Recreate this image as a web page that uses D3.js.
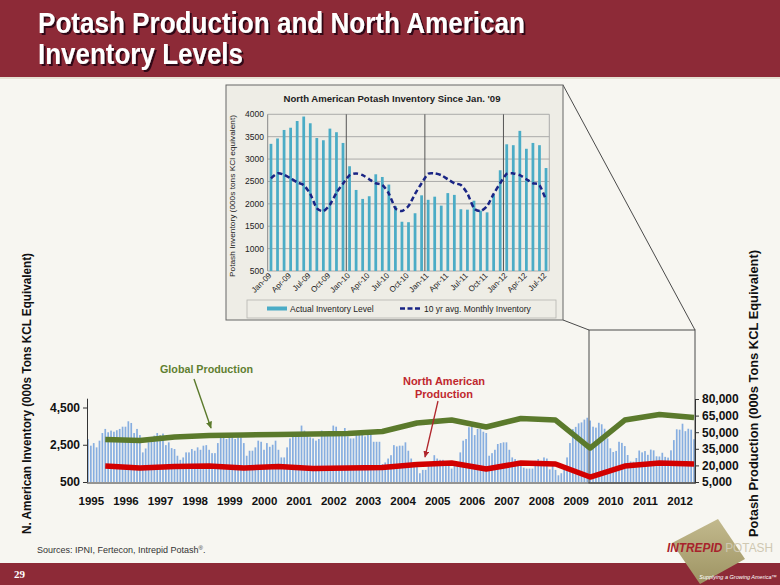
<!DOCTYPE html>
<html><head><meta charset="utf-8">
<script src="https://cdn.jsdelivr.net/npm/d3@7"></script>
<style>html,body{margin:0;padding:0;background:#f7f6f1;}svg{display:block;font-family:"Liberation Sans",Arial,sans-serif;}</style>
</head><body><svg id="c" width="780" height="585"></svg>
<script>
// ---------- DATA ----------
const years = d3.range(1995, 2013);
const yearLabels = years.map(String);
// Monthly N. American inventory (000s tons KCl), Jan 1995 - Dec 2008
const inventory1995to2008 = [
  2800,2450,2590,2360,2720,3130,3350,3170,3260,3200,3280,3350, // 1995
  3470,3470,3760,3670,3130,3350,3020,2090,2300,2630,2810,2990, // 1996
  3130,3020,3100,2480,2630,2320,2270,1910,1690,1820,2090,2090, // 1997
  2270,2180,2360,2230,2450,2480,2230,2050,2050,2590,2900,2900, // 1998
  2810,2900,2900,2810,2900,2900,2590,1910,2180,2180,2360,2720, // 1999
  2660,2230,2590,2390,2500,2720,2230,1820,1820,2360,2840,2950, // 2000
  2990,2990,3530,3260,2990,2900,2840,2720,2810,3260,2990,3080, // 2001
  3080,3530,3470,3080,3170,3400,2950,2840,2840,3020,3040,3040, // 2002
  2950,3080,3080,2660,2660,2660,1460,1550,1760,1940,2480,2410, // 2003
  2450,2450,2630,2180,1760,1580,1330,970,1150,1150,1550,1550,  // 2004
  1940,1760,1690,1690,1580,1360,1220,1360,1550,2090,2720,2810, // 2005
  3440,3490,3020,3350,3350,3200,3130,1910,2050,2230,2540,2590, // 2006
  2630,2630,2230,1820,1730,1640,1360,1270,1220,1220,1220,1640, // 2007
  1730,1640,1820,1760,1180,1360,1150,860,970,1180,1820,2590    // 2008
];
// Monthly inventory Jan 2009 - Jul 2012 (inset)
const inventory2009to2012 = [
  3340,3460,3650,3700,3850,3950,3800,3470,3420,3680,3600,3360, // 2009
  2840,2310,2110,2170,2660,2600,2430,1950,1600,1590,1790,2190, // 2010
  2090,2160,1960,2240,2200,1880,1870,2070,1850,1810,2200,2750, // 2011
  3330,3310,3630,3230,3360,3310,2800                          // 2012
];
// 10 yr avg monthly inventory, Jan 2009 - Jul 2012
const tenYearAvg = [
  2570,2680,2650,2570,2480,2420,2220,1900,1840,1980,2250,2450,
  2640,2680,2640,2550,2460,2420,2230,1900,1840,1950,2220,2460,
  2670,2680,2640,2550,2460,2420,2230,1900,1840,1950,2220,2460,
  2670,2680,2640,2550,2460,2420,2090
];
const insetMonthLabels = ["Jan-09","Apr-09","Jul-09","Oct-09","Jan-10","Apr-10","Jul-10","Oct-10",
  "Jan-11","Apr-11","Jul-11","Oct-11","Jan-12","Apr-12","Jul-12"];
// Annual production (000s tons KCl), 1995-2012
const globalProduction = [43400,42500,45700,47000,47500,47900,48400,48800,50600,58300,61000,54700,62400,61000,35700,61000,66000,63300];
const naProduction     = [19400,17700,19000,19400,17700,19000,17200,17700,18100,20800,22200,16800,22200,21300,9500,19400,22200,21300];
const leftTicks  = [500, 2500, 4500];
const rightTicks = [5000, 20000, 35000, 50000, 65000, 80000];
const insetTicks = [500,1000,1500,2000,2500,3000,3500,4000];

const inventoryMonthly = inventory1995to2008.concat(inventory2009to2012);

// ---------- DRAW ----------
const svg = d3.select('#c');
const defs = svg.append('defs');
function arrow(id, color){
  defs.append('marker').attr('id',id).attr('viewBox','0 0 10 10').attr('refX',9).attr('refY',5)
    .attr('markerWidth',5).attr('markerHeight',5).attr('orient','auto')
    .append('path').attr('d','M0,0.5L10,5L0,9.5Z').attr('fill',color);
}
arrow('arrG','#5b7a2c'); arrow('arrR','#b0262c');
const lg = defs.append('linearGradient').attr('id','logoG').attr('x1',0).attr('y1',0).attr('x2',0).attr('y2',1);
lg.append('stop').attr('offset','0%').attr('stop-color','#c2b98d');
lg.append('stop').attr('offset','100%').attr('stop-color','#9e9463');
const sh = defs.append('filter').attr('id','tshadow').attr('x','-5%').attr('y','-20%').attr('width','115%').attr('height','150%');
sh.append('feDropShadow').attr('dx',2).attr('dy',2).attr('stdDeviation',0.6).attr('flood-color','#1e0609').attr('flood-opacity',0.8);

svg.append('rect').attr('width',780).attr('height',585).attr('fill','#f7f6f1');
// title bar
svg.append('rect').attr('x',0).attr('y',0).attr('width',780).attr('height',77).attr('fill','#8d2a37');
svg.append('rect').attr('x',0).attr('y',77).attr('width',780).attr('height',2).attr('fill','#e6e1d3');
const titleLines = [["Potash Production and North American",33,487],["Inventory Levels",64,205]];
titleLines.forEach(([t,y,len])=>{
  svg.append('text').attr('x',38).attr('y',y).attr('font-size',30).attr('font-weight','bold')
    .attr('fill','#ffffff').attr('filter','url(#tshadow)').attr('textLength',len).attr('lengthAdjust','spacingAndGlyphs').text(t);
});
// bottom bar
svg.append('rect').attr('x',0).attr('y',563).attr('width',780).attr('height',22).attr('fill','#8d2a37');
svg.append('text').attr('x',14).attr('y',578).attr('font-size',11).attr('font-weight','bold')
  .attr('font-family','"Liberation Serif",serif').attr('fill','#fff').text('29');

// ---------- MAIN CHART ----------
const x = d3.scaleLinear().domain([-0.5, 210.5]).range([86.5, 695.5]);
const yL = d3.scaleLinear().domain([500, 5000]).range([482, 398.2]);
const yR = d3.scaleLinear().domain([5000, 80000]).range([482, 399]);

const main = svg.append('g');
main.selectAll('rect.inv').data(inventoryMonthly).enter().append('rect').attr('class','inv')
  .attr('x',(d,i)=>x(i)-0.85).attr('width',1.7)
  .attr('y',d=>yL(d)).attr('height',d=>yL(500)-yL(d)).attr('fill','#87aee0');

// zoom callout box & connectors
const boxL = 589, boxR = 695, boxT = 330, boxB = 483;
main.append('rect').attr('x',boxL).attr('y',boxT).attr('width',boxR-boxL).attr('height',boxB-boxT)
  .attr('fill','none').attr('stroke','#4a4a4a').attr('stroke-width',1);
main.append('line').attr('x1',563).attr('y1',85).attr('x2',boxR).attr('y2',boxT).attr('stroke','#4a4a4a').attr('stroke-width',1);
main.append('line').attr('x1',563).attr('y1',320).attr('x2',boxL).attr('y2',boxT).attr('stroke','#4a4a4a').attr('stroke-width',1);

// axes
const axL = main.append('g').attr('transform','translate(87,0)')
  .call(d3.axisLeft(yL).tickValues(leftTicks).tickFormat(d3.format(',')).tickSize(4).tickSizeOuter(0));
const axR = main.append('g').attr('transform','translate(695,0)')
  .call(d3.axisRight(yR).tickValues(rightTicks).tickFormat(d3.format(',')).tickSize(4).tickSizeOuter(0));
const axB = main.append('g').attr('transform','translate(0,482.5)')
  .call(d3.axisBottom(x).tickValues(years.map((y,i)=>12*i+1)).tickFormat((d,i)=>yearLabels[i]).tickSize(0).tickPadding(14).tickSizeOuter(0));
[axL,axR].forEach(a=>{a.selectAll('text').attr('font-size',12).attr('font-weight','bold').attr('fill','#111').attr('font-family','"Liberation Sans",Arial,sans-serif');
  a.select('.domain').attr('stroke','#333'); a.selectAll('.tick line').attr('stroke','#333');});
axB.selectAll('text').attr('font-size',11.5).attr('font-weight','bold').attr('fill','#111').attr('font-family','"Liberation Sans",Arial,sans-serif');
axB.select('.domain').attr('stroke','#333');

// production lines
const lineG = d3.line().x((d,i)=>x(12*i+6)).y(d=>yR(d));
main.append('path').attr('d',lineG(globalProduction)).attr('fill','none').attr('stroke','#5b7a2c').attr('stroke-width',5.5).attr('stroke-linejoin','round');
main.append('path').attr('d',lineG(naProduction)).attr('fill','none').attr('stroke','#d20000').attr('stroke-width',5.5).attr('stroke-linejoin','round');

// annotations
main.append('text').attr('x',160).attr('y',373).attr('font-size',11).attr('font-weight','bold').attr('fill','#5f7f30')
  .attr('textLength',93).attr('lengthAdjust','spacingAndGlyphs').text('Global Production');
main.append('line').attr('x1',194).attr('y1',379).attr('x2',211).attr('y2',428).attr('stroke','#5b7a2c').attr('stroke-width',1.4).attr('marker-end','url(#arrG)');
main.append('text').attr('x',444).attr('y',385).attr('text-anchor','middle').attr('font-size',11).attr('font-weight','bold').attr('fill','#c0282e').text('North American');
main.append('text').attr('x',444).attr('y',398).attr('text-anchor','middle').attr('font-size',11).attr('font-weight','bold').attr('fill','#c0282e').text('Production');
main.append('line').attr('x1',438).attr('y1',401).attr('x2',425).attr('y2',457).attr('stroke','#b0262c').attr('stroke-width',1.3).attr('marker-end','url(#arrR)');

// axis titles
svg.append('text').attr('transform','translate(31,393.5) rotate(-90)').attr('text-anchor','middle')
  .attr('font-size',12).attr('font-weight','bold').attr('fill','#111').attr('textLength',281).attr('lengthAdjust','spacingAndGlyphs')
  .text('N. American Inventory (000s Tons KCL Equivalent)');
svg.append('text').attr('transform','translate(758,393.5) rotate(-90)').attr('text-anchor','middle')
  .attr('font-size',12).attr('font-weight','bold').attr('fill','#111').attr('textLength',287).attr('lengthAdjust','spacingAndGlyphs')
  .text('Potash Production (000s Tons KCL Equivalent)');

// sources
const src = svg.append('text').attr('x',37).attr('y',553).attr('font-size',9).attr('fill','#333');
src.append('tspan').text('Sources: IPNI, Fertecon, Intrepid Potash');
src.append('tspan').attr('font-size',6).attr('dy',-3).text('®');
src.append('tspan').attr('dy',3).text('.');

// ---------- INSET ----------
const inset = svg.append('g');
inset.append('rect').attr('x',226).attr('y',85).attr('width',337).attr('height',235).attr('fill','#eeede6').attr('stroke','#666').attr('stroke-width',1);
inset.append('text').attr('x',392).attr('y',102).attr('text-anchor','middle').attr('font-size',9.5).attr('font-weight','bold').attr('fill','#222')
  .attr('textLength',217).attr('lengthAdjust','spacingAndGlyphs').text("North American Potash Inventory Since Jan. '09");
const ix = d3.scaleBand().domain(d3.range(inventory2009to2012.length)).range([267.7,549.3]).paddingInner(0.58).paddingOuter(0.29);
const iy = d3.scaleLinear().domain([500,4000]).range([271,114.3]);
inset.selectAll('line.grid').data(insetTicks).enter().append('line').attr('class','grid')
  .attr('x1',267.7).attr('x2',549.3).attr('y1',d=>iy(d)).attr('y2',d=>iy(d)).attr('stroke','#9a9a9a').attr('stroke-width',0.8);
inset.append('line').attr('x1',267.7).attr('x2',267.7).attr('y1',iy(4000)).attr('y2',iy(500)).attr('stroke','#888');
inset.append('line').attr('x1',549.3).attr('x2',549.3).attr('y1',iy(4000)).attr('y2',iy(500)).attr('stroke','#aaa');
inset.selectAll('rect.ib').data(inventory2009to2012).enter().append('rect').attr('class','ib')
  .attr('x',(d,i)=>ix(i)).attr('width',ix.bandwidth()).attr('y',d=>iy(d)).attr('height',d=>iy(500)-iy(d)).attr('fill','#4bacc6');
[12,24,36].forEach(i=>{
  const bx = ix(i) - ix.step()*ix.paddingInner()/2;
  inset.append('line').attr('x1',bx).attr('x2',bx).attr('y1',iy(4000)).attr('y2',iy(500)).attr('stroke','#555').attr('stroke-width',1);
});
const avgLine = d3.line().x((d,i)=>ix(i)+ix.bandwidth()/2).y(d=>iy(d)).curve(d3.curveCardinal.tension(0.3));
inset.append('path').attr('d',avgLine(tenYearAvg)).attr('fill','none').attr('stroke','#1a2585').attr('stroke-width',2.5).attr('stroke-dasharray','5,3');
inset.selectAll('text.iyt').data(insetTicks).enter().append('text').attr('class','iyt')
  .attr('x',264).attr('y',d=>iy(d)+3).attr('text-anchor','end').attr('font-size',8.5).attr('fill','#222').text(d=>d);
insetMonthLabels.forEach((t,k)=>{
  const cx = ix(k*3)+ix.bandwidth()/2+1;
  inset.append('text').attr('transform',`translate(${cx},276) rotate(-45)`).attr('text-anchor','end')
    .attr('font-size',8).attr('fill','#222').text(t);
});
inset.append('text').attr('transform','translate(235,196) rotate(-90)').attr('text-anchor','middle').attr('font-size',7.6).attr('fill','#222')
  .attr('textLength',162).attr('lengthAdjust','spacingAndGlyphs').text('Potash Inventory (000s tons KCl equivalent)');
// legend
inset.append('rect').attr('x',247).attr('y',300).attr('width',309).attr('height',18).attr('fill','none').attr('stroke','#b5b5b0').attr('stroke-width',0.8);
inset.append('rect').attr('x',267).attr('y',306.5).attr('width',20).attr('height',4).attr('fill','#4bacc6');
inset.append('text').attr('x',290).attr('y',312).attr('font-size',8.5).attr('fill','#222').text('Actual Inventory Level');
inset.append('line').attr('x1',400).attr('x2',422).attr('y1',308.5).attr('y2',308.5).attr('stroke','#1a2585').attr('stroke-width',2.4).attr('stroke-dasharray','5,2.5');
inset.append('text').attr('x',424).attr('y',312).attr('font-size',8.5).attr('fill','#222').text('10 yr avg. Monthly Inventory');

// ---------- LOGO ----------
svg.append('polygon').attr('points','718,519 672,543 700,584 745,559').attr('fill','url(#logoG)');
const logo = svg.append('text').attr('x',667).attr('y',552).attr('font-size',12).attr('font-weight','bold').attr('font-style','italic')
  .attr('textLength',106).attr('lengthAdjust','spacingAndGlyphs');
logo.append('tspan').attr('fill','#a8232c').text('INTREPID');
logo.append('tspan').attr('fill','#cfc8b2').attr('font-style','normal').attr('font-weight','normal').attr('dx',3).text('POTASH');
svg.append('text').attr('x',777).attr('y',579).attr('text-anchor','end').attr('font-size',5.5).attr('font-style','italic').attr('fill','#fff').text('Supplying a Growing America™');
</script></body></html>
